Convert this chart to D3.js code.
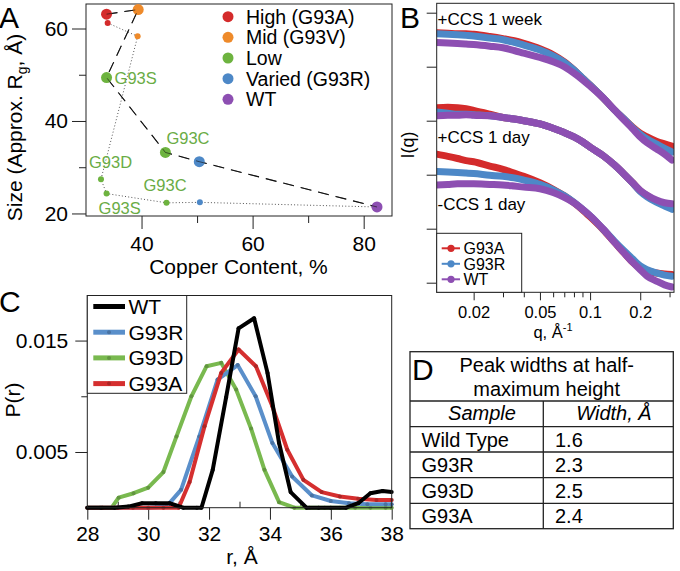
<!DOCTYPE html>
<html><head><meta charset="utf-8">
<script src="https://cdn.jsdelivr.net/npm/d3@7"></script>
<style>
body{margin:0;background:#fff;}
svg{display:block;font-family:Arial,"Liberation Sans",Helvetica,sans-serif;}
</style></head><body>
<svg id="fig" width="680" height="571"></svg>
<script>
// ---------- Panel A data ----------
const aGroups = ["High (G93A)", "Mid (G93V)", "Low", "Varied (G93R)", "WT"];
const aLargeCu = [33.7, 39.4, 33.7, 44.3, 50.4, 82.4];
const aLargeRg = [63.1, 64.1, 49.4, 33.2, 31.2, 21.4];
const aLargeGroup = [0, 1, 2, 2, 3, 4];
const aSmallCu = [33.9, 39.3, 32.7, 33.7, 44.5, 50.5, 82.4];
const aSmallRg = [61.2, 58.3, 27.4, 24.3, 22.3, 22.4, 21.4];
const aSmallGroup = [0, 1, 2, 2, 2, 3, 4];
const aLabels = ["G93S", "G93C", "G93D", "G93S", "G93C"];
const aLabelCu = [33.7, 44.3, 32.7, 33.7, 44.5];
const aLabelRg = [49.4, 33.2, 27.4, 24.3, 22.3];
const aXTicks = [40, 60, 80];
const aXMinor = [50, 70];
const aYTicks = [20, 40, 60];
const aYMinor = [30, 50];

// ---------- Panel B data ----------
const bQ = [0.012,0.014,0.016,0.018,0.02,0.025,0.03,0.035,0.04,0.05,0.06,0.07,0.08,0.09,0.1,0.12,0.14,0.16,0.18,0.2,0.22,0.25,0.28,0.31];
const bWeekG93A = [4.63,4.62,4.61,4.61,4.60,4.56,4.52,4.48,4.43,4.33,4.22,4.09,3.94,3.79,3.66,3.42,3.20,3.03,2.88,2.77,2.70,2.62,2.57,2.53];
const bWeekG93R = [4.61,4.60,4.59,4.58,4.57,4.53,4.50,4.45,4.40,4.31,4.20,4.08,3.94,3.79,3.66,3.42,3.20,3.03,2.87,2.75,2.66,2.57,2.49,2.42];
const bWeekWT   = [4.45,4.44,4.43,4.42,4.41,4.38,4.35,4.30,4.25,4.17,4.09,4.00,3.88,3.76,3.64,3.42,3.20,3.01,2.85,2.70,2.59,2.48,2.38,2.27];
const bDayG93A  = [3.24,3.25,3.24,3.22,3.19,3.12,3.06,3.03,3.00,2.94,2.86,2.78,2.70,2.61,2.51,2.35,2.18,2.01,1.85,1.70,1.61,1.51,1.46,1.42];
const bDayG93R  = [3.16,3.14,3.12,3.12,3.11,3.09,3.06,3.03,3.00,2.94,2.86,2.78,2.70,2.61,2.51,2.35,2.18,2.01,1.85,1.69,1.59,1.49,1.42,1.36];
const bDayWT    = [3.09,3.10,3.10,3.11,3.10,3.09,3.06,3.03,3.00,2.94,2.86,2.78,2.70,2.61,2.51,2.35,2.18,2.01,1.85,1.71,1.62,1.53,1.48,1.46];
const bNoG93A   = [2.38,2.34,2.30,2.26,2.24,2.16,2.10,2.03,1.97,1.85,1.73,1.61,1.48,1.35,1.22,0.98,0.75,0.55,0.38,0.27,0.22,0.18,0.16,0.15];
const bNoG93R   = [2.06,2.05,2.04,2.03,2.02,1.99,1.97,1.94,1.90,1.82,1.72,1.61,1.49,1.36,1.24,0.99,0.77,0.59,0.44,0.31,0.24,0.18,0.14,0.12];
const bNoWT     = [1.81,1.82,1.83,1.83,1.83,1.82,1.81,1.79,1.77,1.74,1.67,1.58,1.48,1.36,1.24,0.99,0.75,0.55,0.38,0.24,0.12,0.03,-0.04,-0.08];
const bSamples = ["G93A", "G93R", "WT"];
const bConditions = ["+CCS 1 week", "+CCS 1 day", "-CCS 1 day"];
const bXTicks = [0.02, 0.05, 0.1, 0.2];
const bXMinor = [0.03, 0.04, 0.06, 0.07, 0.08, 0.09, 0.3];
const bYTicks = [0, 1, 2, 3, 4, 5];

// ---------- Panel C data ----------
const cNames = ["WT", "G93R", "G93D", "G93A"];
const cWtR   = [28.0,28.45,28.9,29.35,29.8,30.25,30.7,31.15,31.6,31.75,32.12,32.56,32.97,33.48,33.92,34.3,34.68,35.2,35.6,36.0,36.5,36.9,37.3,37.7,38.0];
const cWtP   = [0,0,0,0.0001,0.0004,0.0004,0.0004,0,0,0,0.0034,0.0099,0.0161,0.0170,0.0121,0.0058,0.0014,0,0,0,0,0.0004,0.0013,0.0015,0.0014];
const cG93rR = [28.0,28.5,29.0,29.5,30.0,30.6,31.08,31.68,32.28,32.94,33.53,34.08,34.73,35.38,36.0,36.6,37.2,37.8,38.0];
const cG93rP = [0,0,0,0,0,0.0001,0.0016,0.0064,0.0115,0.0128,0.0100,0.0058,0.0028,0.0011,0.0006,0.0004,0.0003,0.0003,0.0003];
const cG93dR = [28.0,28.4,28.8,29.03,29.52,30.0,30.5,30.93,31.42,31.92,32.4,32.89,33.38,33.82,34.3,34.8,35.3,35.8,36.3,36.8,37.3,37.8,38.0];
const cG93dP = [0,0,0,0.0009,0.0013,0.0018,0.0032,0.0064,0.0100,0.0127,0.0130,0.0106,0.0071,0.0034,0.0005,0,0,0,0,0,0,0,0];
const cG93aR = [28.0,28.5,29.0,29.5,30.0,30.5,31.0,31.36,31.85,32.4,32.97,33.54,34.08,34.57,35.1,35.7,36.3,36.9,37.5,38.0];
const cG93aP = [0,0,0,0,0,0,0,0.0023,0.0073,0.0121,0.0142,0.0127,0.0091,0.0052,0.0025,0.0014,0.0010,0.0008,0.0007,0.0007];
const cXTicks = [28, 30, 32, 34, 36, 38];
const cXMinor = [29, 31, 33, 35, 37];
const cYTicks = [0.005, 0.015];
const cYMinor = [0.01];

// ---------- Panel D data ----------
const dTitle = ["Peak widths at half-", "maximum height"];
const dHeader = ["Sample", "Width, Å"];
const dSamples = ["Wild Type", "G93R", "G93D", "G93A"];
const dWidths = ["1.6", "2.3", "2.5", "2.4"];

// ---------- drawing ----------
const svg = d3.select("#fig");
const FONT = 'Arial,"Liberation Sans",Helvetica,sans-serif';

function styleAxis(g, fs) {
  g.select(".domain").remove();
  g.selectAll(".tick line").attr("stroke", "#222").attr("stroke-width", 1);
  g.selectAll(".tick text").attr("fill", "#000").attr("font-size", fs).attr("font-family", FONT);
}

// ===== Panel A =====
const aCol = ["#d42b2b", "#ee8a2a", "#6db33f", "#4d88c7", "#8d4fb2"];
const axA = d3.scaleLinear().domain([30, 85.1]).range([86, 392]);
const ayA = d3.scaleLinear().domain([19.45, 65.3]).range([216, 4]);
const gA = svg.append("g");
gA.append("g").attr("transform", "translate(0,216)")
  .call(d3.axisBottom(axA).tickValues(aXTicks).tickSize(13).tickPadding(7).tickFormat(d3.format("d")))
  .call(g => styleAxis(g, 21));
gA.append("g").attr("transform", "translate(0,216)")
  .call(d3.axisBottom(axA).tickValues(aXMinor).tickSize(7).tickFormat(""))
  .call(g => styleAxis(g, 21));
gA.append("g").attr("transform", "translate(86,0)")
  .call(d3.axisLeft(ayA).tickValues(aYTicks).tickSize(14).tickPadding(4).tickFormat(d3.format("d")))
  .call(g => styleAxis(g, 21));
gA.append("g").attr("transform", "translate(86,0)")
  .call(d3.axisLeft(ayA).tickValues(aYMinor).tickSize(7).tickFormat(""))
  .call(g => styleAxis(g, 21));
gA.append("rect").attr("x", 86).attr("y", 4).attr("width", 306).attr("height", 212)
  .attr("fill", "none").attr("stroke", "#222").attr("stroke-width", 1);

const lineA = d3.line();
const smallPts = aSmallCu.map((c, i) => [axA(c), ayA(aSmallRg[i])]);
const largePts = aLargeCu.map((c, i) => [axA(c), ayA(aLargeRg[i])]);
gA.append("path").attr("d", lineA(smallPts)).attr("fill", "none")
  .attr("stroke", "#555").attr("stroke-width", 1).attr("stroke-dasharray", "1,2.2");
gA.append("path").attr("d", lineA(largePts)).attr("fill", "none")
  .attr("stroke", "#111").attr("stroke-width", 1.1).attr("stroke-dasharray", "11,7");
gA.selectAll("circle.sm").data(aSmallCu).join("circle").attr("class", "sm")
  .attr("cx", d => axA(d)).attr("cy", (d, i) => ayA(aSmallRg[i])).attr("r", 3)
  .attr("fill", (d, i) => aCol[aSmallGroup[i]]);
gA.selectAll("circle.lg").data(aLargeCu).join("circle").attr("class", "lg")
  .attr("cx", d => axA(d)).attr("cy", (d, i) => ayA(aLargeRg[i])).attr("r", 5.5)
  .attr("fill", (d, i) => aCol[aLargeGroup[i]]);
gA.append("path").attr("d", lineA(largePts)).attr("fill", "none")
  .attr("stroke", "#111").attr("stroke-width", 1).attr("stroke-dasharray", "11,7").attr("opacity", 0.6);

const aLabelOff = [[8, 6], [1, -8], [-12, -11], [-8, 20], [-23, -12]];
gA.selectAll("text.lbl").data(aLabels).join("text").attr("class", "lbl")
  .attr("x", (d, i) => axA(aLabelCu[i]) + aLabelOff[i][0])
  .attr("y", (d, i) => ayA(aLabelRg[i]) + aLabelOff[i][1])
  .attr("font-size", 16.5).attr("fill", "#6aac45").text(d => d);

const legA = gA.append("g");
aGroups.forEach((name, i) => {
  const cy = 16.7 + i * 20.65;
  legA.append("circle").attr("cx", 228).attr("cy", cy).attr("r", 5.5).attr("fill", aCol[i]);
  legA.append("text").attr("x", 246).attr("y", cy + 7).attr("font-size", 19.5).attr("fill", "#000").text(name);
});
gA.append("text").attr("x", 238.5).attr("y", 274).attr("text-anchor", "middle")
  .attr("font-size", 21).text("Copper Content, %");
const yTitA = gA.append("text").attr("transform", "translate(22,127.5) rotate(-90)")
  .attr("text-anchor", "middle").attr("font-size", 21);
yTitA.append("tspan").text("Size (Approx. R");
yTitA.append("tspan").attr("font-size", 14).attr("dy", 5).text("g");
yTitA.append("tspan").attr("dy", -5).text(", Å)");
svg.append("text").attr("x", -1).attr("y", 28).attr("font-size", 30).text("A");

// ===== Panel B =====
const bCol = ["#d42b2b", "#4d88c7", "#8d4fb2"];
const bxS = d3.scaleLog().domain([0.012, 0.319]).range([436.7, 674]);
const byS = d3.scaleLinear().domain([-0.178, 5.174]).range([292.3, 3.3]);
const gB = svg.append("g");
svg.append("defs").append("clipPath").attr("id", "clipB").append("rect")
  .attr("x", 436.7).attr("y", 3.3).attr("width", 237.3).attr("height", 289);
gB.append("g").attr("transform", "translate(0,292.3)")
  .call(d3.axisBottom(bxS).tickValues(bXTicks).tickSize(8).tickPadding(5.5).tickFormat(d => String(d)))
  .call(g => styleAxis(g, 16.5));
gB.append("g").attr("transform", "translate(0,292.3)")
  .call(d3.axisBottom(bxS).tickValues(bXMinor).tickSize(5).tickFormat(""))
  .call(g => styleAxis(g, 16.5));
gB.append("g").attr("transform", "translate(436.7,0)")
  .call(d3.axisLeft(byS).tickValues(bYTicks).tickSize(10).tickFormat(""))
  .call(g => styleAxis(g, 16.5));

const bSeries = [
  [bWeekG93A, bWeekG93R, bWeekWT],
  [bDayG93A, bDayG93R, bDayWT],
  [bNoG93A, bNoG93R, bNoWT]
];
const lineB = d3.line().x((d, i) => bxS(bQ[i])).y(d => byS(d)).curve(d3.curveMonotoneX);
const curvesB = gB.append("g").attr("clip-path", "url(#clipB)");
bSeries.forEach(group => {
  group.forEach((vals, si) => {
    curvesB.append("path").attr("d", lineB(vals)).attr("fill", "none")
      .attr("stroke", bCol[si]).attr("stroke-width", 7).attr("stroke-linecap", "round")
      .attr("stroke-linejoin", "round");
  });
});
gB.append("rect").attr("x", 436.7).attr("y", 3.3).attr("width", 237.3).attr("height", 289)
  .attr("fill", "none").attr("stroke", "#222").attr("stroke-width", 1);
const condY = [24.5, 143, 210];
bConditions.forEach((t, i) => {
  gB.append("text").attr("x", 437.5).attr("y", condY[i]).attr("font-size", 17).text(t);
});
// legend B
gB.append("rect").attr("x", 436.7).attr("y", 233.3).attr("width", 85).attr("height", 59)
  .attr("fill", "#fff").attr("stroke", "#222").attr("stroke-width", 1);
bSamples.forEach((s, i) => {
  const cy = 248.3 + i * 15.5;
  gB.append("line").attr("x1", 441.7).attr("x2", 460).attr("y1", cy).attr("y2", cy)
    .attr("stroke", bCol[i]).attr("stroke-width", 2);
  gB.append("circle").attr("cx", 451).attr("cy", cy).attr("r", 3.6).attr("fill", bCol[i]);
  gB.append("text").attr("x", 463.5).attr("y", cy + 5.8).attr("font-size", 16).text(s);
});
const bXT = gB.append("text").attr("x", 553).attr("y", 338).attr("text-anchor", "middle").attr("font-size", 16.5);
bXT.append("tspan").text("q, Å");
bXT.append("tspan").attr("font-size", 11).attr("dy", -7).text("-1");
gB.append("text").attr("transform", "translate(414,145) rotate(-90)").attr("text-anchor", "middle")
  .attr("font-size", 18).text("I(q)");
svg.append("text").attr("x", 400).attr("y", 27.5).attr("font-size", 30).text("B");

// ===== Panel C =====
const cCol = ["#000000", "#5a8fca", "#79b94f", "#d52f2f"];
const cxS = d3.scaleLinear().domain([28, 38]).range([87.3, 391.7]);
const cyS = d3.scaleLinear().domain([0, 0.019]).range([507.7, 296]);
const gC = svg.append("g");
gC.append("g").attr("transform", "translate(0,507.7)")
  .call(d3.axisBottom(cxS).tickValues(cXTicks).tickSize(12).tickPadding(6.5).tickFormat(d3.format("d")))
  .call(g => styleAxis(g, 21));
gC.append("g").attr("transform", "translate(0,507.7)")
  .call(d3.axisTop(cxS).tickValues(cXMinor).tickSize(6).tickFormat(""))
  .call(g => styleAxis(g, 21));
gC.append("g").attr("transform", "translate(87.3,0)")
  .call(d3.axisLeft(cyS).tickValues(cYTicks).tickSize(12).tickPadding(7).tickFormat(d3.format(".3f")))
  .call(g => styleAxis(g, 21));
gC.append("g").attr("transform", "translate(87.3,0)")
  .call(d3.axisLeft(cyS).tickValues(cYMinor).tickSize(6).tickFormat(""))
  .call(g => styleAxis(g, 21));

const cData = [[cWtR, cWtP], [cG93rR, cG93rP], [cG93dR, cG93dP], [cG93aR, cG93aP]];
const lineC = d3.line().x(d => cxS(d[0])).y(d => cyS(d[1]));
[2, 1, 3, 0].forEach(k => {
  const pts = cData[k][0].map((r, i) => [r, cData[k][1][i]]);
  gC.append("path").attr("d", lineC(pts)).attr("fill", "none").attr("stroke", cCol[k])
    .attr("stroke-width", 4).attr("stroke-linejoin", "round");
  gC.selectAll(null).data(pts).join("circle").attr("cx", d => cxS(d[0])).attr("cy", d => cyS(d[1]))
    .attr("r", 2).attr("fill", d3.color(cCol[k]).darker(0.6));
});
gC.append("rect").attr("x", 87.3).attr("y", 295.5).attr("width", 304.4).attr("height", 212.2)
  .attr("fill", "none").attr("stroke", "#222").attr("stroke-width", 1);
gC.append("rect").attr("x", 87.3).attr("y", 295.5).attr("width", 99.4).attr("height", 97.8)
  .attr("fill", "#fff").attr("stroke", "#222").attr("stroke-width", 1);
cNames.forEach((n, i) => {
  const cy = 306.5 + i * 25.7;
  gC.append("line").attr("x1", 93.3).attr("x2", 125).attr("y1", cy).attr("y2", cy)
    .attr("stroke", cCol[i]).attr("stroke-width", 5);
  gC.append("circle").attr("cx", 109).attr("cy", cy).attr("r", 2).attr("fill", d3.color(cCol[i]).darker(0.6));
  gC.append("text").attr("x", 128.5).attr("y", cy + 7.5).attr("font-size", 21).text(n);
});
gC.append("text").attr("x", 242).attr("y", 564).attr("text-anchor", "middle").attr("font-size", 21).text("r, Å");
gC.append("text").attr("transform", "translate(20,400) rotate(-90)").attr("text-anchor", "middle")
  .attr("font-size", 21).text("P(r)");
svg.append("text").attr("x", -1).attr("y", 311.5).attr("font-size", 30).text("C");

// ===== Panel D =====
const gD = svg.append("g");
const tL = 410, tR = 673.3, tTop = 351.7, colX = 543.3;
const rowLines = [401, 426.7, 452, 477.7, 503.3, 528.7];
gD.append("rect").attr("x", tL).attr("y", tTop).attr("width", tR - tL).attr("height", rowLines[5] - tTop)
  .attr("fill", "none").attr("stroke", "#222").attr("stroke-width", 1.3);
rowLines.slice(0, 5).forEach(y => {
  gD.append("line").attr("x1", tL).attr("x2", tR).attr("y1", y).attr("y2", y)
    .attr("stroke", "#222").attr("stroke-width", 1.3);
});
gD.append("line").attr("x1", colX).attr("x2", colX).attr("y1", rowLines[0]).attr("y2", rowLines[5])
  .attr("stroke", "#222").attr("stroke-width", 1.3);
gD.append("text").attr("x", 412).attr("y", 380).attr("font-size", 30).text("D");
dTitle.forEach((t, i) => {
  gD.append("text").attr("x", 546.7).attr("y", 371.5 + i * 24.5).attr("text-anchor", "middle")
    .attr("font-size", 20).text(t);
});
gD.append("text").attr("x", 482).attr("y", 420).attr("text-anchor", "middle")
  .attr("font-size", 20).attr("font-style", "italic").text(dHeader[0]);
gD.append("text").attr("x", 614).attr("y", 420).attr("text-anchor", "middle")
  .attr("font-size", 20).attr("font-style", "italic").text(dHeader[1]);
dSamples.forEach((s, i) => {
  const y = 446.5 + i * 25.6;
  gD.append("text").attr("x", 421.5).attr("y", y).attr("font-size", 20).text(s);
  gD.append("text").attr("x", 555).attr("y", y).attr("font-size", 20).text(dWidths[i]);
});
</script>
</body></html>
